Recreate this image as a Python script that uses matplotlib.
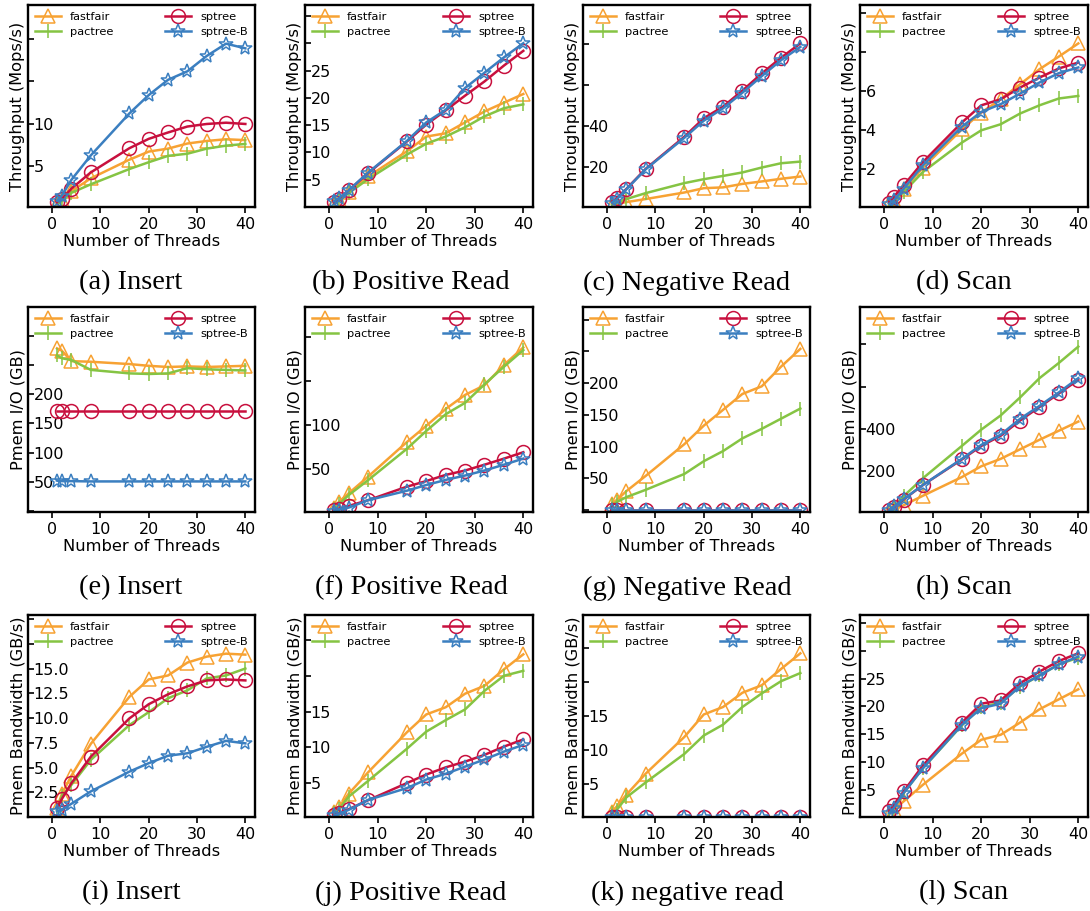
import matplotlib
matplotlib.use("Agg")
import numpy as np
import matplotlib.pyplot as plt

threads = [1, 2, 4, 8, 16, 20, 24, 28, 32, 36, 40]
names = ["fastfair", "pactree", "sptree", "sptree-B"]

# throughput (Mops/s)
tp_insert = {
    "fastfair": [0.7, 1.1, 2.1, 3.6, 5.8, 6.75, 7.1, 7.7, 8.0, 8.2, 8.1],
    "pactree": [0.6, 0.9, 1.9, 2.9, 4.7, 5.5, 6.25, 6.5, 7.1, 7.45, 7.65],
    "sptree": [0.82, 1.17, 2.4, 4.3, 7.15, 8.25, 9.0, 9.7, 10.0, 10.15, 10.0],
    "sptree-B": [0.98, 1.56, 3.44, 6.3, 11.25, 13.4, 15.2, 16.2, 18.0, 19.45, 18.9],
}
tp_posread = {
    "fastfair": [0.7, 1.3, 2.7, 5.6, 10.2, 12.9, 13.5, 15.5, 17.5, 19.1, 20.7],
    "pactree": [0.6, 1.15, 2.55, 5.1, 9.6, 11.6, 12.9, 14.6, 16.6, 18.1, 18.8],
    "sptree": [0.85, 1.5, 3.05, 6.2, 12.0, 15.1, 17.7, 20.4, 23.0, 25.9, 28.6],
    "sptree-B": [1.04, 1.65, 3.05, 6.3, 12.1, 15.5, 17.8, 21.8, 24.6, 27.4, 30.0],
}
tp_negread = {
    "fastfair": [1.3, 1.8, 2.6, 4.1, 7.3, 9.4, 9.8, 11.5, 12.7, 14.0, 15.1],
    "pactree": [1.6, 2.4, 4.1, 7.0, 11.9, 13.8, 15.4, 17.1, 19.5, 21.6, 22.4],
    "sptree": [2.6, 4.6, 9.1, 18.9, 34.6, 43.6, 49.3, 57.1, 65.5, 73.2, 80.2],
    "sptree-B": [2.4, 4.1, 8.9, 18.7, 34.1, 42.4, 48.5, 56.1, 64.2, 72.0, 78.5],
}
tp_scan = {
    "fastfair": [0.24, 0.36, 0.96, 2.07, 4.03, 4.89, 5.57, 6.34, 7.11, 7.76, 8.43],
    "pactree": [0.19, 0.32, 0.82, 1.85, 3.35, 3.98, 4.29, 4.84, 5.26, 5.61, 5.74],
    "sptree": [0.27, 0.58, 1.16, 2.36, 4.38, 5.26, 5.57, 6.17, 6.68, 7.15, 7.45],
    "sptree-B": [0.22, 0.39, 0.99, 2.2, 4.17, 4.92, 5.32, 5.86, 6.43, 6.91, 7.2],
}

# pmem I/O (GB)
io_insert = {
    "fastfair": [279, 275, 257, 256, 252, 249, 247, 248, 247, 248, 249],
    "pactree": [267, 262, 259, 242, 236, 235, 236, 245, 243, 242, 241],
    "sptree": [172, 172, 172, 172, 172, 172, 172, 172, 172, 172, 172],
    "sptree-B": [52, 51, 51, 50.5, 50.5, 50.5, 50.5, 50.5, 50.5, 50.5, 50.5],
}
io_posread = {
    "fastfair": [5.8, 12.3, 22, 41, 80.4, 98.8, 118, 134, 145, 168, 188],
    "pactree": [4.6, 9.6, 20, 37, 72.7, 93, 112, 125, 146, 166, 185],
    "sptree": [2.7, 4.6, 7.7, 14.2, 29.6, 36, 43, 48, 54.6, 61.5, 68.8],
    "sptree-B": [2.0, 3.5, 5.8, 14.2, 25, 31.5, 37.3, 42.3, 48, 54.6, 61.5],
}
io_negread = {
    "fastfair": [10, 16, 30, 54, 104, 133, 158, 183, 195, 226, 254],
    "pactree": [7.6, 12.8, 20.5, 32, 57, 77, 93, 113, 128, 144, 160],
    "sptree": [0.5] * 11,
    "sptree-B": [0.5] * 11,
}
io_scan = {
    "fastfair": [11, 21, 40, 85, 173, 224, 259, 304, 349, 392, 435],
    "pactree": [16, 32, 83, 168, 320, 397, 464, 549, 640, 712, 789],
    "sptree": [16, 32, 67, 136, 256, 320, 368, 440, 504, 568, 632],
    "sptree-B": [16, 34, 69, 136, 259, 325, 373, 448, 509, 573, 640],
}

# pmem bandwidth (GB/s)
bw_insert = {
    "fastfair": [0.93, 2.33, 4.2, 7.4, 12.15, 13.9, 14.3, 15.6, 16.2, 16.5, 16.4],
    "pactree": [0.76, 2.1, 3.27, 5.78, 9.3, 10.6, 12.0, 12.8, 14.0, 14.3, 15.0],
    "sptree": [0.93, 1.83, 3.44, 6.1, 9.97, 11.4, 12.4, 13.2, 13.8, 13.9, 13.8],
    "sptree-B": [0.59, 0.76, 1.36, 2.6, 4.6, 5.45, 6.2, 6.45, 7.1, 7.7, 7.45],
}
bw_posread = {
    "fastfair": [0.95, 1.65, 3.5, 6.5, 12.1, 14.6, 15.6, 17.5, 18.6, 20.9, 23.0],
    "pactree": [0.8, 1.35, 3.1, 5.3, 9.8, 12.2, 13.8, 15.3, 17.9, 20.0, 20.7],
    "sptree": [0.56, 0.8, 1.35, 2.6, 5.0, 6.2, 7.2, 8.0, 8.95, 10.1, 11.1],
    "sptree-B": [0.47, 0.65, 1.26, 2.65, 4.3, 5.5, 6.3, 7.3, 8.3, 9.4, 10.35],
}
bw_negread = {
    "fastfair": [0.9, 1.65, 3.4, 6.5, 11.9, 15.2, 16.3, 18.4, 19.5, 21.9, 24.2],
    "pactree": [0.75, 1.15, 3.0, 5.2, 9.4, 12.1, 13.7, 16.3, 18.3, 20.1, 21.3],
    "sptree": [0.15] * 11,
    "sptree-B": [0.15] * 11,
}
bw_scan = {
    "fastfair": [0.6, 1.4, 2.9, 5.9, 11.5, 14.0, 14.9, 17.1, 19.5, 21.3, 23.1],
    "pactree": [0.8, 1.7, 4.4, 8.9, 16.6, 19.9, 20.7, 23.6, 25.6, 27.6, 28.8],
    "sptree": [1.1, 2.3, 4.7, 9.4, 17.1, 20.5, 21.1, 24.2, 26.3, 28.2, 29.6],
    "sptree-B": [0.8, 1.7, 4.4, 8.9, 16.7, 19.7, 20.5, 23.7, 25.6, 27.6, 29.0],
}

captions = ["(a) Insert", "(b) Positive Read", "(c) Negative Read", "(d) Scan",
            "(e) Insert", "(f) Positive Read", "(g) Negative Read", "(h) Scan",
            "(i) Insert", "(j) Positive Read", "(k) negative read", "(l) Scan"]
ylabels = ["Throughput (Mops/s)", "Pmem I/O (GB)", "Pmem Bandwidth (GB/s)"]
panels = [tp_insert, tp_posread, tp_negread, tp_scan,
          io_insert, io_posread, io_negread, io_scan,
          bw_insert, bw_posread, bw_negread, bw_scan]

# (ymin, ymax, tick step, largest labelled tick, label format)
yaxis = [
    (0.23, 24, 5, 10, "{:g}"), (0, 37, 5, 25, "{:g}"), (0.2, 99, 20, 40, "{:g}"), (0.05, 10.4, 2, 6, "{:g}"),
    (-2, 350, 50, 200, "{:g}"), (0.8, 234, 50, 100, "{:g}"), (-3, 320, 50, 200, "{:g}"), (8, 976, 200, 400, "{:g}"),
    (0.02, 20.4, 2.5, 15, "{:.1f}"), (0.26, 28.5, 5, 15, "{:g}"), (0.1, 29.85, 5, 15, "{:g}"), (0.07, 36.5, 5, 25, "{:g}"),
]

styles = {
    "fastfair": dict(color="#F7A233", marker="^", ms=10),
    "pactree": dict(color="#85C443", marker="|", ms=10),
    "sptree": dict(color="#C8103E", marker="o", ms=10),
    "sptree-B": dict(color="#3B7FC0", marker="*", ms=10),
}

W, H = 1090, 911
fig = plt.figure(figsize=(W / 100, H / 100), dpi=100)

col_x = [(28, 255), (305, 533), (583, 810), (860, 1088)]
row_y = [(5, 207), (307, 512), (615, 817)]
cap_x = [131, 411, 687, 964]
cap_y = [283, 588, 893]

for k, data in enumerate(panels):
    r, c = divmod(k, 4)
    x0, x1 = col_x[c]
    y0, y1 = row_y[r]
    ax = fig.add_axes([x0 / W, 1 - y1 / H, (x1 - x0) / W, (y1 - y0) / H])
    for n in names:
        st = styles[n]
        ax.plot(threads, data[n], color=st["color"], marker=st["marker"], ms=st["ms"],
                mfc="none", mec=st["color"], mew=1.1, lw=1.8, label=n)
    ymin, ymax, step, lab_max, fmt = yaxis[k]
    ax.set_xlim(-5, 42)
    ax.set_ylim(ymin, ymax)
    ax.set_xticks([0, 10, 20, 30, 40])
    yt = [v for v in np.arange(0, ymax, step) if v > ymin]
    ax.set_yticks(yt, [fmt.format(v) if 0 < v <= lab_max + 1e-9 else "" for v in yt])
    for t in ax.get_yticklabels():
        t.set_horizontalalignment("left")
    ax.tick_params(labelsize=11.5, width=1.2, length=4)
    ax.tick_params(axis="y", direction="in", pad=-4)
    ax.set_xlabel("Number of Threads", fontsize=11.7, labelpad=1)
    ax.set_ylabel(ylabels[r], fontsize=11.7, labelpad=2)
    for s in ax.spines.values():
        s.set_linewidth(1.7)
    ax.legend(loc="upper left", bbox_to_anchor=(0, 1.0, 1, 0), mode="expand", ncol=2,
              frameon=False, fontsize=8.2, handlelength=2.3, borderaxespad=0.2,
              labelspacing=0.45, handletextpad=0.8)
    fig.text(cap_x[c] / W, 1 - cap_y[r] / H, captions[k], ha="center", va="center",
             fontsize=20.5, family="Liberation Serif")

fig.savefig("out.png", dpi=100)
